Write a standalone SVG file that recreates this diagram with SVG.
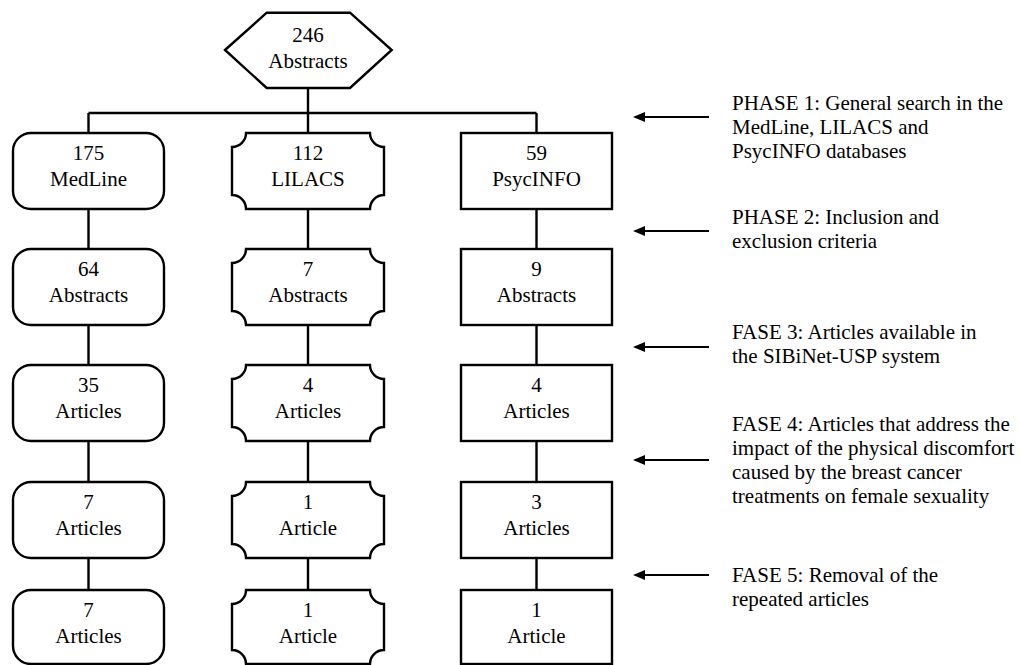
<svg xmlns="http://www.w3.org/2000/svg" width="1021" height="665" viewBox="0 0 1021 665">
<style>
.n{fill:#fff;stroke:#000;stroke-width:2.4}
.c{stroke:#000;stroke-width:2.4;fill:none}
.a{stroke:#000;stroke-width:2;fill:none}
.m{text-anchor:middle}
</style>
<defs>
<marker id="ah" markerUnits="userSpaceOnUse" markerWidth="12" markerHeight="10" refX="7" refY="5" orient="auto">
<path d="M0,0 L12,5 L0,10 z" fill="#000"/>
</marker>
</defs>
<rect width="1021" height="665" fill="#fff"/>
<g id="connectors">
<path class="c" d="M308 88 V113 M88.5 113 H536.5 M88.5 113 V133 M308 113 V133 M536.5 113 V133"/>
<path class="c" d="M88.5 209 V249 M88.5 325 V365 M88.5 441 V482 M88.5 558 V590"/>
<path class="c" d="M308 209 V249 M308 325 V365 M308 441 V482 M308 558 V590"/>
<path class="c" d="M536.5 209 V249 M536.5 325 V365 M536.5 441 V482 M536.5 558 V590"/>
<line class="a" x1="709" y1="117" x2="638" y2="117" marker-end="url(#ah)"/>
<line class="a" x1="709" y1="231" x2="638" y2="231" marker-end="url(#ah)"/>
<line class="a" x1="709" y1="347" x2="638" y2="347" marker-end="url(#ah)"/>
<line class="a" x1="709" y1="460" x2="638" y2="460" marker-end="url(#ah)"/>
<line class="a" x1="709" y1="575" x2="638" y2="575" marker-end="url(#ah)"/>
</g>
<g font-family="Liberation Serif" font-size="21" fill="#000">
<g id="n0"><polygon class="n" points="225,50 266.7,12.7 350,12.7 391.7,50 350,88 266.7,88"/><text class="m" x="308" y="42">246</text><text class="m" x="308" y="68">Abstracts</text></g>
<g id="m1"><rect class="n" x="13" y="133" width="151" height="76" rx="18"/><text class="m" x="88.5" y="160">175</text><text class="m" x="88.5" y="186">MedLine</text></g>
<g id="m2"><rect class="n" x="13" y="249" width="151" height="76" rx="18"/><text class="m" x="88.5" y="276">64</text><text class="m" x="88.5" y="302">Abstracts</text></g>
<g id="m3"><rect class="n" x="13" y="365" width="151" height="76" rx="18"/><text class="m" x="88.5" y="392">35</text><text class="m" x="88.5" y="418">Articles</text></g>
<g id="m4"><rect class="n" x="13" y="482" width="151" height="76" rx="18"/><text class="m" x="88.5" y="509">7</text><text class="m" x="88.5" y="535">Articles</text></g>
<g id="m5"><rect class="n" x="13" y="590" width="151" height="74" rx="18"/><text class="m" x="88.5" y="617">7</text><text class="m" x="88.5" y="643">Articles</text></g>
<g id="l1"><path class="n" d="M246 133 H370 A14 14 0 0 0 384 147 V195 A14 14 0 0 0 370 209 H246 A14 14 0 0 0 232 195 V147 A14 14 0 0 0 246 133 Z"/><text class="m" x="308" y="160">112</text><text class="m" x="308" y="186">LILACS</text></g>
<g id="l2"><path class="n" d="M246 249 H370 A14 14 0 0 0 384 263 V311 A14 14 0 0 0 370 325 H246 A14 14 0 0 0 232 311 V263 A14 14 0 0 0 246 249 Z"/><text class="m" x="308" y="276">7</text><text class="m" x="308" y="302">Abstracts</text></g>
<g id="l3"><path class="n" d="M246 365 H370 A14 14 0 0 0 384 379 V427 A14 14 0 0 0 370 441 H246 A14 14 0 0 0 232 427 V379 A14 14 0 0 0 246 365 Z"/><text class="m" x="308" y="392">4</text><text class="m" x="308" y="418">Articles</text></g>
<g id="l4"><path class="n" d="M246 482 H370 A14 14 0 0 0 384 496 V544 A14 14 0 0 0 370 558 H246 A14 14 0 0 0 232 544 V496 A14 14 0 0 0 246 482 Z"/><text class="m" x="308" y="509">1</text><text class="m" x="308" y="535">Article</text></g>
<g id="l5"><path class="n" d="M246 590 H370 A14 14 0 0 0 384 604 V650 A14 14 0 0 0 370 664 H246 A14 14 0 0 0 232 650 V604 A14 14 0 0 0 246 590 Z"/><text class="m" x="308" y="617">1</text><text class="m" x="308" y="643">Article</text></g>
<g id="p1"><rect class="n" x="461" y="133" width="151" height="76"/><text class="m" x="536.5" y="160">59</text><text class="m" x="536.5" y="186">PsycINFO</text></g>
<g id="p2"><rect class="n" x="461" y="249" width="151" height="76"/><text class="m" x="536.5" y="276">9</text><text class="m" x="536.5" y="302">Abstracts</text></g>
<g id="p3"><rect class="n" x="461" y="365" width="151" height="76"/><text class="m" x="536.5" y="392">4</text><text class="m" x="536.5" y="418">Articles</text></g>
<g id="p4"><rect class="n" x="461" y="482" width="151" height="76"/><text class="m" x="536.5" y="509">3</text><text class="m" x="536.5" y="535">Articles</text></g>
<g id="p5"><rect class="n" x="461" y="590" width="151" height="74"/><text class="m" x="536.5" y="617">1</text><text class="m" x="536.5" y="643">Article</text></g>
<g id="labels">
<text x="732" y="110">PHASE 1: General search in the</text>
<text x="732" y="134">MedLine, LILACS and</text>
<text x="732" y="158">PsycINFO databases</text>
<text x="732" y="224">PHASE 2: Inclusion and</text>
<text x="732" y="248">exclusion criteria</text>
<text x="732" y="339">FASE 3: Articles available in</text>
<text x="732" y="363">the SIBiNet-USP system</text>
<text x="732" y="431">FASE 4: Articles that address the</text>
<text x="732" y="455">impact of the physical discomfort</text>
<text x="732" y="479">caused by the breast cancer</text>
<text x="732" y="503">treatments on female sexuality</text>
<text x="732" y="582">FASE 5: Removal of the</text>
<text x="732" y="606">repeated articles</text>
</g>
</g>
</svg>
